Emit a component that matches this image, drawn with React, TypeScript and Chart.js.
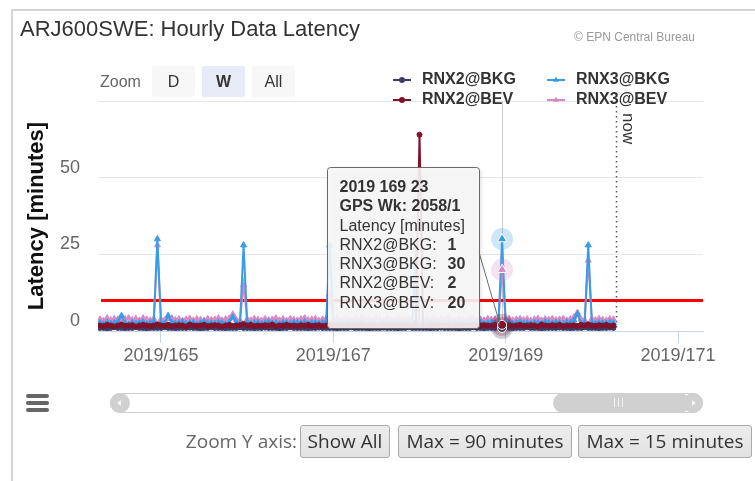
import React, { useEffect, useRef } from 'react';
import { Chart, registerables } from 'chart.js';

Chart.register(...registerables);

const SANS = '"Liberation Sans", Arial, sans-serif';
const OPEN = '"Open Sans", "Noto Sans", sans-serif';

const TITLE = 'ARJ600SWE: Hourly Data Latency';
const CREDITS = '\u00A9 EPN Central Bureau';
const Y_TITLE = 'Latency [minutes]';

// hourly samples start at day 164, hour 07
const START_DAY = 164;
const START_HOUR = 7;
const X_MIN = 164.269;
const X_MAX = 171.29;
const X_TICKS = [165, 167, 169, 171];
const X_TICK_PREFIX = '2019/';
const Y_TICKS = [0, 25, 50, 75];
const Y_MAX = 75;
const THRESHOLD = 10;
const NOW_DAY = 170.285;
const NOW_LABEL = 'now';

const HOVER_INDEX = 112;
const TOOLTIP_TITLE = '2019 169 23';
const TOOLTIP_WEEK = 'GPS Wk: 2058/1';
const TOOLTIP_SUB = 'Latency [minutes]';

const SERIES_NAMES = ['RNX2@BKG', 'RNX3@BKG', 'RNX2@BEV', 'RNX3@BEV'];
const SERIES_COLORS = ['#3d3d66', '#3a9be6', '#82122a', '#d68ac6'];
const SERIES_SHAPES = ['circle', 'triangle', 'circle', 'triangle'];
const SERIES_DRAW_ORDER = [1, 2, 0, 3];

const RNX2_BKG = [
  1, 1, 0.8, 1, 1.2, 1, 1, 0.9, 1, 1, 1.3, 1, 1, 0.8, 1, 1, 1,
  1, 1.2, 1, 1, 0.9, 1, 1, 1, 1.1, 1, 1, 0.8, 1, 1, 1.2, 1, 1, 1, 0.9, 1, 1, 1, 1.2, 1,
  1, 1, 0.9, 1, 1, 1.1, 1, 1, 1, 0.8, 1, 1, 1.2, 1, 1, 1, 1, 0.9, 1, 1, 1.1, 1, 1, 1,
  1, 0.9, 1, 1, 1, 1.2, 1, 1, 1, 1, 0.8, 1, 1, 1, 1.1, 1, 1, 1, 0.9, 1, 1, 1.2, 1, 1,
  1, 1, 1, 0.9, 1, 1, 1.1, 1, 1, 1, 1, 0.8, 1, 1, 1, 1.2, 1, 1, 0.9, 1, 1, 1, 1.1, 1,
  1, 1, 0.9, 1, 1, 1, 1.2, 1, 1, 1, 0.8, 1, 1, 1, 1, 1.1, 1, 1, 0.9, 1, 1, 1, 1.2, 1,
  1, 1, 0.9, 1, 1, 1.1, 1,
];

const RNX3_BKG = [
  2.6, 2.2, 2.8, 2.4, 2.6, 3, 5, 2.6, 2.2, 2.7, 2.4, 2.6, 2.9, 2.3, 2.6, 3, 30,
  2.6, 2.4, 5, 2.8, 2.5, 2.6, 2.9, 2.3, 2.6, 2.7, 2.2, 2.6, 3, 2.5, 2.6, 2.4, 2.8, 2.6, 2.3, 2.7, 4.5, 2.6, 2.4, 28,
  2.8, 2.4, 2.6, 2.7, 2.3, 2.6, 2.9, 2.5, 2.6, 2.2, 2.7, 2.6, 2.4, 2.8, 2.6, 2.5, 2.9, 2.3, 2.6, 2.7, 2.4, 2.6, 2.8, 28,
  2.6, 2.5, 2.7, 2.3, 2.6, 2.8, 2.4, 2.6, 2.7, 2.5, 2.6, 2.9, 2.3, 2.6, 2.7, 2.4, 2.6, 2.8, 2.5, 2.6, 2.3, 2.7, 2.6, 27,
  2.6, 2.4, 2.8, 2.6, 2.5, 2.7, 2.3, 2.6, 2.9, 2.4, 2.6, 2.7, 2.5, 2.6, 2.8, 2.3, 2.6, 2.7, 2.4, 2.6, 2.8, 2.5, 2.6, 30,
  2.6, 2.7, 2.4, 2.6, 2.8, 2.5, 2.6, 2.3, 2.7, 2.6, 2.4, 2.9, 2.6, 2.5, 2.7, 2.6, 2.4, 2.8, 2.6, 3.5, 5.5, 2.5, 2.6, 28,
  2.6, 2.4, 2.7, 2.6, 2.5, 2.8, 2.6,
];

const RNX2_BEV = [
  1.8, 1.6, 2, 1.8, 1.5, 1.8, 2.1, 1.7, 1.8, 1.9, 1.5, 1.8, 2, 1.8, 1.6, 1.8, 2.2,
  1.8, 1.7, 2, 1.6, 1.8, 1.9, 1.8, 1.5, 2.1, 1.8, 1.7, 1.8, 2, 1.6, 1.8, 1.9, 1.8, 1.5, 1.8, 2, 1.7, 1.8, 1.9, 2.3,
  1.8, 2, 1.6, 1.8, 1.7, 1.9, 1.8, 2.1, 1.5, 1.8, 1.8, 2, 1.7, 1.8, 1.6, 1.9, 1.8, 2, 1.7, 1.8, 1.9, 1.6, 1.8, 2.2,
  1.8, 1.7, 1.9, 1.8, 2, 1.6, 1.8, 1.8, 2.1, 1.7, 1.8, 1.9, 1.5, 1.8, 2, 1.8, 1.7, 1.9, 1.8, 1.6, 2, 1.8, 1.7, 2.1,
  64, 1.8, 1.6, 1.9, 1.8, 2, 1.7, 1.8, 1.9, 1.5, 1.8, 2.1, 1.8, 1.7, 1.8, 2, 1.6, 1.8, 1.9, 1.8, 1.7, 2, 1.8, 2,
  1.8, 1.9, 1.6, 1.8, 2, 1.7, 1.8, 1.9, 1.8, 1.5, 2.1, 1.8, 1.7, 1.9, 1.8, 2, 1.6, 1.8, 1.8, 1.9, 1.7, 2, 1.8, 2.2,
  1.8, 1.7, 1.9, 1.8, 2, 1.6, 1.8,
];

const RNX3_BEV = [
  3.8, 3.4, 4.2, 3.6, 4, 3.8, 3.4, 3.9, 4.2, 3.6, 4, 3.5, 4.2, 3.8, 3.5, 4, 28,
  3.8, 3.5, 4, 4.2, 3.6, 3.9, 3.4, 3.8, 4.1, 3.5, 3.9, 3.7, 3.4, 4, 3.6, 3.8, 4.2, 3.5, 3.9, 4.1, 5.5, 3.7, 3.5, 15,
  3.9, 3.5, 4, 3.7, 3.4, 4, 3.6, 3.8, 4.2, 3.5, 3.9, 3.4, 4, 3.7, 3.5, 3.9, 4.2, 3.6, 3.8, 4, 3.4, 3.8, 4, 12,
  3.7, 4, 3.5, 3.9, 3.8, 3.4, 4, 3.6, 4.2, 3.7, 3.9, 3.5, 4, 3.8, 3.4, 4, 3.7, 3.5, 4.1, 3.8, 3.6, 3.9, 3.5, 16,
  3.8, 3.5, 4, 3.7, 4, 3.4, 3.9, 3.6, 4.2, 3.8, 3.5, 4, 3.7, 3.4, 3.9, 4, 3.6, 3.8, 3.5, 4, 3.7, 3.9, 3.6, 20,
  3.7, 4, 3.5, 3.8, 4, 3.6, 3.9, 3.4, 3.8, 4.1, 3.5, 3.9, 3.7, 4, 3.6, 3.8, 4, 3.5, 3.9, 4.5, 6, 3.8, 3.5, 23,
  3.9, 3.6, 4, 3.7, 3.5, 3.9, 3.8,
];

const SERIES_VALUES = [RNX2_BKG, RNX3_BKG, RNX2_BEV, RNX3_BEV];

const dayOf = (i: number) => START_DAY + (START_HOUR + i) / 24;

function drawMarker(ctx: CanvasRenderingContext2D, shape: string, x: number, y: number, r: number, fill: string, stroke?: string, sw = 1) {
  ctx.beginPath();
  if (shape === 'triangle') {
    let rad = 0;
    ctx.moveTo(x + Math.sin(rad) * r, y - Math.cos(rad) * r);
    rad += (2 * Math.PI) / 3;
    ctx.lineTo(x + Math.sin(rad) * r, y - Math.cos(rad) * r);
    rad += (2 * Math.PI) / 3;
    ctx.lineTo(x + Math.sin(rad) * r, y - Math.cos(rad) * r);
    ctx.closePath();
  } else {
    ctx.arc(x, y, r, 0, Math.PI * 2);
  }
  ctx.fillStyle = fill;
  ctx.fill();
  if (stroke) {
    ctx.strokeStyle = stroke;
    ctx.lineWidth = sw;
    ctx.stroke();
  }
}

const underPlugin = {
  id: 'underLayers',
  beforeDatasetsDraw(chart: any) {
    const { ctx, chartArea: ca, scales } = chart;
    const xs = scales.x;
    const ys = scales.y;
    ctx.save();
    // crosshair
    const hx = Math.round(xs.getPixelForValue(dayOf(HOVER_INDEX))) + 0.5;
    ctx.strokeStyle = '#cccccc';
    ctx.lineWidth = 1;
    ctx.beginPath();
    ctx.moveTo(hx, ca.top);
    ctx.lineTo(hx, ca.bottom);
    ctx.stroke();
    // threshold plot line
    const ty = Math.round(ys.getPixelForValue(THRESHOLD)) + 0.5;
    ctx.strokeStyle = '#ff0000';
    ctx.lineWidth = 3;
    ctx.beginPath();
    ctx.moveTo(ca.left + 3, ty);
    ctx.lineTo(ca.right, ty);
    ctx.stroke();
    // now line
    const nx = Math.round(xs.getPixelForValue(NOW_DAY)) + 0.5;
    ctx.strokeStyle = '#555555';
    ctx.lineWidth = 1.5;
    ctx.setLineDash([1.5, 3.5]);
    ctx.beginPath();
    ctx.moveTo(nx, ca.top);
    ctx.lineTo(nx, ca.bottom);
    ctx.stroke();
    ctx.setLineDash([]);
    ctx.translate(nx + 6, ca.top + 12);
    ctx.rotate(Math.PI / 2);
    ctx.font = `17px ${SANS}`;
    ctx.fillStyle = '#333333';
    ctx.textBaseline = 'alphabetic';
    ctx.textAlign = 'left';
    ctx.fillText(NOW_LABEL, 0, 0);
    ctx.restore();
  },
};

function hexAlpha(hex: string, a: number) {
  const n = parseInt(hex.slice(1), 16);
  return `rgba(${(n >> 16) & 255},${(n >> 8) & 255},${n & 255},${a})`;
}

const overPlugin = {
  id: 'overLayers',
  afterDraw(chart: any) {
    const { ctx, chartArea: ca, scales } = chart;
    const xs = scales.x;
    const ys = scales.y;
    const hx = xs.getPixelForValue(dayOf(HOVER_INDEX));
    ctx.save();
    // halos
    SERIES_VALUES.forEach((vals, k) => {
      const py = ys.getPixelForValue(vals[HOVER_INDEX]);
      ctx.beginPath();
      ctx.arc(hx, py, 11, 0, Math.PI * 2);
      ctx.fillStyle = hexAlpha(SERIES_COLORS[k], 0.25);
      ctx.fill();
    });
    // hover markers
    SERIES_DRAW_ORDER.slice().reverse().forEach((k) => {
      const py = ys.getPixelForValue(SERIES_VALUES[k][HOVER_INDEX]);
      const r = SERIES_SHAPES[k] === 'triangle' ? 5.5 : 4.5;
      drawMarker(ctx, SERIES_SHAPES[k], hx, py, r, SERIES_COLORS[k], '#ffffff', 1);
    });

    // legend
    ctx.textBaseline = 'middle';
    ctx.textAlign = 'left';
    SERIES_NAMES.forEach((name, k) => {
      const col = k % 2;
      const row = Math.floor(k / 2);
      const lx = 393 + col * 154;
      const ly = 80 + row * 20;
      ctx.strokeStyle = SERIES_COLORS[k];
      ctx.lineWidth = 2;
      ctx.beginPath();
      ctx.moveTo(lx, ly);
      ctx.lineTo(lx + 18, ly);
      ctx.stroke();
      drawMarker(ctx, SERIES_SHAPES[k], lx + 9, ly, SERIES_SHAPES[k] === 'triangle' ? 3.5 : 3, SERIES_COLORS[k]);
      ctx.font = `bold 16px ${SANS}`;
      ctx.fillStyle = '#333333';
      ctx.fillText(name, lx + 29, ly);
    });

    // tooltip
    const bw = 152;
    const bh = 161;
    const bx = Math.round(hx - 175) + 0.5;
    const by = Math.round(ca.top + 66) + 0.5;
    const anchorY = ys.getPixelForValue(RNX2_BEV[HOVER_INDEX]);
    ctx.strokeStyle = '#6a6a6a';
    ctx.lineWidth = 1;
    ctx.beginPath();
    ctx.moveTo(bx + bw - 1, by + 83);
    ctx.lineTo(hx - 2, anchorY);
    ctx.stroke();

    const rr = 3;
    const boxPath = () => {
      ctx.beginPath();
      ctx.moveTo(bx + rr, by);
      ctx.lineTo(bx + bw - rr, by);
      ctx.arcTo(bx + bw, by, bx + bw, by + rr, rr);
      ctx.lineTo(bx + bw, by + bh - rr);
      ctx.arcTo(bx + bw, by + bh, bx + bw - rr, by + bh, rr);
      ctx.lineTo(bx + rr, by + bh);
      ctx.arcTo(bx, by + bh, bx, by + bh - rr, rr);
      ctx.lineTo(bx, by + rr);
      ctx.arcTo(bx, by, bx + rr, by, rr);
      ctx.closePath();
    };
    ctx.save();
    ctx.shadowColor = 'rgba(0,0,0,0.18)';
    ctx.shadowOffsetX = 1;
    ctx.shadowOffsetY = 1;
    ctx.shadowBlur = 4;
    boxPath();
    ctx.fillStyle = 'rgba(248,248,248,0.9)';
    ctx.fill();
    ctx.restore();
    boxPath();
    ctx.strokeStyle = '#6a6a6a';
    ctx.lineWidth = 1;
    ctx.stroke();

    const tx = bx + 12;
    const lh = 19.3;
    let ty = by + 20;
    ctx.fillStyle = '#333333';
    ctx.textBaseline = 'middle';
    ctx.font = `bold 16px ${SANS}`;
    ctx.fillText(TOOLTIP_TITLE, tx, ty);
    ty += lh;
    ctx.fillText(TOOLTIP_WEEK, tx, ty);
    ty += lh;
    ctx.font = `16px ${SANS}`;
    ctx.fillText(TOOLTIP_SUB, tx, ty);
    SERIES_NAMES.forEach((name, k) => {
      ty += lh;
      ctx.font = `16px ${SANS}`;
      ctx.fillText(name + ':', tx, ty);
      ctx.font = `bold 16px ${SANS}`;
      ctx.fillText(String(SERIES_VALUES[k][HOVER_INDEX]), bx + 120, ty);
    });
    ctx.restore();
  },
};

export default function App() {
  const canvasRef = useRef<HTMLCanvasElement>(null);

  useEffect(() => {
    if (!canvasRef.current) return;
    Chart.defaults.font.family = SANS;
    const datasets = SERIES_NAMES.map((name, k) => ({
      label: name,
      data: SERIES_VALUES[k].map((v, i) => ({ x: dayOf(i), y: v })),
      borderColor: SERIES_COLORS[k],
      backgroundColor: SERIES_COLORS[k],
      borderWidth: 2,
      pointStyle: SERIES_SHAPES[k] as any,
      pointRadius: SERIES_SHAPES[k] === 'triangle' ? 3.5 : 2.5,
      pointBorderWidth: 1,
      pointBorderColor: SERIES_COLORS[k],
      pointBackgroundColor: SERIES_COLORS[k],
      tension: 0,
      fill: false,
      order: SERIES_DRAW_ORDER[k],
    }));

    const chart = new Chart(canvasRef.current, {
      type: 'line',
      data: { datasets },
      plugins: [underPlugin, overPlugin],
      options: {
        animation: false,
        responsive: false,
        events: [],
        layout: { padding: { left: 0, right: 52, top: 101, bottom: 0 } },
        plugins: {
          legend: { display: false },
          tooltip: { enabled: false },
          title: { display: false },
        },
        scales: {
          x: {
            type: 'linear',
            min: X_MIN,
            max: X_MAX,
            afterFit: (s: any) => {
              s.height = 150;
            },
            afterBuildTicks: (s: any) => {
              s.ticks = X_TICKS.map((v) => ({ value: v }));
            },
            ticks: {
              autoSkip: false,
              maxRotation: 0,
              padding: 2,
              color: '#666666',
              font: { size: 18, family: SANS },
              callback: (v: any) => X_TICK_PREFIX + v,
            },
            grid: {
              drawOnChartArea: false,
              drawTicks: true,
              tickLength: 12,
              color: '#ccd6eb',
            },
            border: { display: true, color: '#ccd6eb', width: 1 },
          },
          y: {
            type: 'linear',
            min: 0,
            max: Y_MAX,
            afterFit: (s: any) => {
              s.width = 98;
            },
            afterBuildTicks: (s: any) => {
              s.ticks = Y_TICKS.map((v) => ({ value: v }));
            },
            ticks: {
              padding: 18,
              labelOffset: -10,
              color: '#666666',
              font: { size: 18, family: SANS },
              callback: (v: any) => (v === Y_MAX ? '' : String(v)),
            },
            grid: { color: '#e6e6e6', drawTicks: false, lineWidth: 1 },
            border: { display: false },
            title: {
              display: true,
              text: Y_TITLE,
              color: '#111111',
              font: { size: 22, weight: 'bold', family: SANS, lineHeight: 1.2 },
              padding: { top: 24, bottom: 0 },
            },
          },
        },
      } as any,
    });
    return () => chart.destroy();
  }, []);

  const btn = (bg: string, bold: boolean): React.CSSProperties => ({
    position: 'absolute',
    top: 66,
    width: 43,
    height: 31,
    background: bg,
    borderRadius: 2,
    display: 'flex',
    alignItems: 'center',
    justifyContent: 'center',
    fontSize: 16,
    fontWeight: bold ? 'bold' : 'normal',
    color: '#333',
    fontFamily: SANS,
  });

  const yBtn = (left: number, width: number): React.CSSProperties => ({
    position: 'absolute',
    left,
    top: 425,
    width,
    height: 33,
    boxSizing: 'border-box',
    border: '1px solid #a9a9a9',
    borderRadius: 3,
    background: 'linear-gradient(#ededed, #e2e2e2)',
    fontFamily: OPEN,
    fontSize: 19,
    color: '#333',
    lineHeight: '31px',
    textAlign: 'center',
    whiteSpace: 'nowrap',
  });

  return (
    <div style={{ position: 'fixed', left: 0, top: 0, width: 755, height: 481, overflow: 'hidden', background: '#fff', fontFamily: SANS }}>
      <div style={{ position: 'absolute', left: 11, top: 9, width: 900, height: 700, borderTop: '2px solid #d4d4d4', borderLeft: '2px solid #d4d4d4' }} />
      <canvas ref={canvasRef} width={755} height={481} style={{ position: 'absolute', left: 0, top: 0, width: 755, height: 481 }} />

      <div style={{ position: 'absolute', left: 20, top: 18, fontSize: 22, lineHeight: '22px', color: '#333', whiteSpace: 'nowrap' }}>{TITLE}</div>
      <div style={{ position: 'absolute', left: 0, width: 695, top: 31, fontSize: 12, lineHeight: '12px', color: '#999', textAlign: 'right', whiteSpace: 'nowrap' }}>{CREDITS}</div>

      <div style={{ position: 'absolute', left: 100, top: 66, height: 31, display: 'flex', alignItems: 'center', fontSize: 16, color: '#666' }}>Zoom</div>
      <div style={{ ...btn('#f7f7f7', false), left: 152 }}>D</div>
      <div style={{ ...btn('#e6ebf5', true), left: 202 }}>W</div>
      <div style={{ ...btn('#f7f7f7', false), left: 252 }}>All</div>

      {/* menu icon */}
      {[394, 401, 408].map((t) => (
        <div key={t} style={{ position: 'absolute', left: 26, top: t, width: 23, height: 4, borderRadius: 2, background: '#666' }} />
      ))}

      {/* scrollbar */}
      <div style={{ position: 'absolute', left: 110, top: 393, width: 593, height: 20, boxSizing: 'border-box', border: '1px solid #cfcfcf', borderRadius: 10, background: '#fff' }} />
      <div style={{ position: 'absolute', left: 110, top: 393, width: 20, height: 20, borderRadius: 10, background: '#d0d0d0' }} />
      <div style={{ position: 'absolute', left: 117, top: 399.5, width: 0, height: 0, borderTop: '3.5px solid transparent', borderBottom: '3.5px solid transparent', borderRight: '4px solid #f4f4f4' }} />
      <div style={{ position: 'absolute', left: 553, top: 393, width: 137, height: 20, borderRadius: 10, background: '#d0d0d0' }} />
      {[614, 618, 622].map((l) => (
        <div key={l} style={{ position: 'absolute', left: l, top: 398, width: 1, height: 9, background: '#f4f4f4' }} />
      ))}
      <div style={{ position: 'absolute', left: 683, top: 393, width: 20, height: 20, borderRadius: 10, background: '#d0d0d0' }} />
      <div style={{ position: 'absolute', left: 692, top: 399.5, width: 0, height: 0, borderTop: '3.5px solid transparent', borderBottom: '3.5px solid transparent', borderLeft: '4px solid #f4f4f4' }} />

      {/* zoom y axis controls */}
      <div style={{ position: 'absolute', left: 100, width: 197, top: 425, height: 33, lineHeight: '33px', textAlign: 'right', fontFamily: OPEN, fontSize: 19, color: '#666', whiteSpace: 'nowrap' }}>Zoom Y axis:</div>
      <div style={yBtn(300, 90)}>Show All</div>
      <div style={yBtn(398, 174)}>Max = 90 minutes</div>
      <div style={yBtn(578, 174)}>Max = 15 minutes</div>
    </div>
  );
}
